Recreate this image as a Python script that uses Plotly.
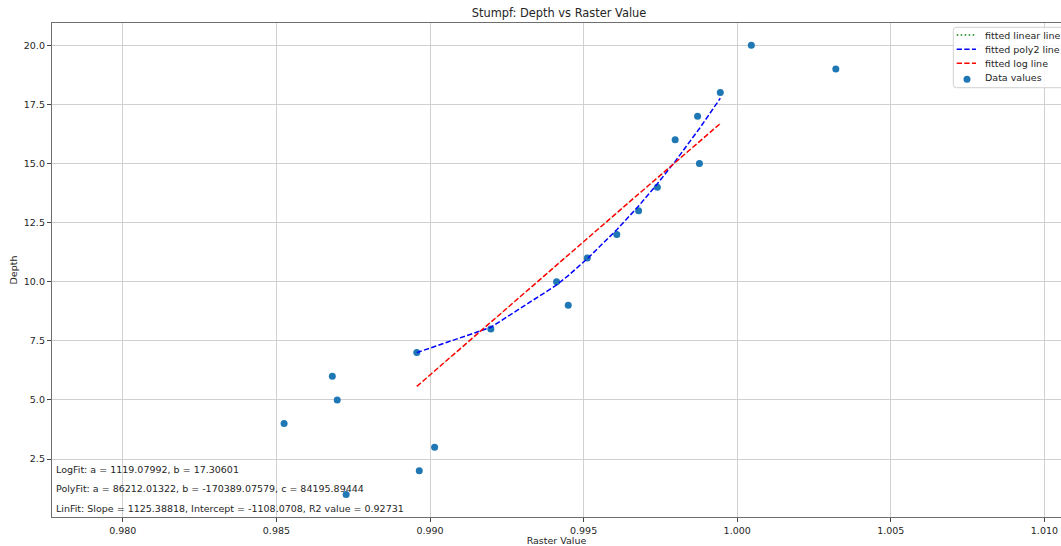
import plotly.graph_objects as go

# ---------------- data ----------------
depth_values = [1, 2, 3, 4, 5, 6, 7, 8, 9, 10, 11, 12, 13, 14, 15, 16, 17, 18, 19, 20]
raster_values = [0.98727, 0.98965, 0.99015, 0.98525, 0.98698, 0.98682, 0.98957, 0.99198,
                 0.99450, 0.99412, 0.99512, 0.99608, 0.99679, 0.99740, 0.99877, 0.99798,
                 0.99871, 0.99945, 1.00321, 1.00046]

fit_x = [0.98957, 0.99198, 0.99412, 0.99450, 0.99512, 0.99608, 0.99679, 0.99740,
         0.99798, 0.99871, 0.99877, 0.99945]
linear_fit = [5.58, 8.29, 10.70, 11.13, 11.83, 12.91, 13.71, 14.39, 15.04, 15.87, 15.93, 16.70]
poly2_fit = [7.00, 8.07, 9.86, 10.26, 10.97, 12.20, 13.20, 14.14, 15.09, 16.37, 16.48, 17.76]
log_fit = [5.57, 8.30, 10.71, 11.13, 11.83, 12.91, 13.71, 14.39, 15.04, 15.86, 15.93, 16.69]

x_tick_vals = [0.980, 0.985, 0.990, 0.995, 1.000, 1.005, 1.010]
x_tick_text = ["0.980", "0.985", "0.990", "0.995", "1.000", "1.005", "1.010"]
y_tick_vals = [2.5, 5.0, 7.5, 10.0, 12.5, 15.0, 17.5, 20.0]
y_tick_text = ["2.5", "5.0", "7.5", "10.0", "12.5", "15.0", "17.5", "20.0"]

legend_labels = ["fitted linear line", "fitted poly2 line", "fitted log line", "Data values"]
fit_texts = [
    "LogFit: a = 1119.07992, b = 17.30601",
    "PolyFit: a = 86212.01322, b = -170389.07579, c = 84195.89444",
    "LinFit: Slope = 1125.38818, Intercept = -1108.0708, R2 value = 0.92731",
]

# ---------------- layout geometry ----------------
W, H = 1061, 546
L, R, T, B = 52, 1061, 23, 517
FONT = "DejaVu Sans"
TXT = "#262626"


def px(xp):
    return (xp - L) / (R - L)


def py(yp):
    return (B - yp) / (B - T)


fig = go.Figure()

# scatter first (matplotlib draws lines above collections)
fig.add_trace(go.Scatter(x=raster_values, y=depth_values, mode="markers",
                         name=legend_labels[3],
                         marker=dict(color="#1f77b4", size=7, line=dict(width=0)),
                         showlegend=False))
# linear fit lies almost exactly under the log fit; in the reference it is hidden by it
fig.add_trace(go.Scatter(x=fit_x, y=linear_fit, mode="lines", name=legend_labels[0],
                         line=dict(color="#008000", width=1.5, dash="1.5px,2.5px"),
                         opacity=0.2, showlegend=False))
fig.add_trace(go.Scatter(x=fit_x, y=poly2_fit, mode="lines", name=legend_labels[1],
                         line=dict(color="#0000ff", width=1.5, dash="5.3px,2.3px"),
                         showlegend=False))
fig.add_trace(go.Scatter(x=fit_x, y=log_fit, mode="lines", name=legend_labels[2],
                         line=dict(color="#ff0000", width=1.5, dash="5.3px,2.3px"),
                         showlegend=False))

shapes = []
# legend box (rounded corners), extends past the right edge like the reference
x0, x1 = px(953.3), px(1068)
y0, y1 = py(87.7), py(27.3)
rx, ry = 3 / (R - L), 3 / (B - T)
path = (f"M {x0+rx},{y1} L {x1-rx},{y1} Q {x1},{y1} {x1},{y1-ry} L {x1},{y0+ry} "
        f"Q {x1},{y0} {x1-rx},{y0} L {x0+rx},{y0} Q {x0},{y0} {x0},{y0+ry} "
        f"L {x0},{y1-ry} Q {x0},{y1} {x0+rx},{y1} Z")
shapes.append(dict(type="path", path=path, xref="paper", yref="paper", layer="above",
                   fillcolor="rgba(255,255,255,0.85)", line=dict(color="#d0d0d0", width=1)))

legend_rows = [35, 49.3, 63.3, 77.7]
legend_styles = [("#008000", "1.5px,2.5px"), ("#0000ff", "5.3px,2.3px"), ("#ff0000", "5.3px,2.3px")]
for i, (col, dash) in enumerate(legend_styles):
    shapes.append(dict(type="line", xref="paper", yref="paper", layer="above",
                       x0=px(956.7), x1=px(976), y0=py(legend_rows[i]), y1=py(legend_rows[i]),
                       line=dict(color=col, width=1.5, dash=dash)))
shapes.append(dict(type="circle", xref="paper", yref="paper", layer="above",
                   xsizemode="pixel", ysizemode="pixel",
                   xanchor=px(967), yanchor=py(79.3),
                   x0=-3.5, x1=3.5, y0=-3.5, y1=3.5,
                   fillcolor="#1f77b4", line=dict(width=0)))

annotations = []
for i, lab in enumerate(legend_labels):
    annotations.append(dict(text=lab, xref="paper", yref="paper", x=px(983), y=py(legend_rows[i]),
                            xanchor="left", yanchor="middle", showarrow=False,
                            font=dict(family=FONT, size=9.5, color=TXT)))
for txt, yy in zip(fit_texts, [469.3, 488.7, 508.3]):
    annotations.append(dict(text=txt, xref="paper", yref="paper", x=px(54), y=py(yy),
                            xanchor="left", yanchor="middle", showarrow=False,
                            font=dict(family=FONT, size=9.5, color=TXT)))

fig.update_layout(
    width=W, height=H,
    margin=dict(l=L, r=W - R, t=T, b=H - B, pad=0),
    paper_bgcolor="white", plot_bgcolor="white",
    font=dict(family=FONT, size=9.5, color=TXT),
    title=dict(text="Stumpf: Depth vs Raster Value", x=559 / W, xref="container", xanchor="center",
               y=1 - 13.3 / H, yref="container", yanchor="middle",
               font=dict(family=FONT, size=11.4, color=TXT)),
    showlegend=False,
    shapes=shapes,
    annotations=annotations,
    xaxis=dict(range=[0.977695, 1.01054], tickvals=x_tick_vals, ticktext=x_tick_text,
               showgrid=True, gridcolor="#d0d0d0", gridwidth=1, zeroline=False,
               showline=True, linecolor="#6e6e6e", linewidth=1.3, mirror=True,
               ticks="outside", ticklen=4, tickwidth=1, tickcolor="#444444",
               tickfont=dict(family=FONT, size=9.5, color=TXT),
               title=dict(text="Raster Value", standoff=3, font=dict(family=FONT, size=9.5, color=TXT)),
               automargin=False),
    yaxis=dict(range=[0.047, 20.943], tickvals=y_tick_vals, ticktext=y_tick_text,
               showgrid=True, gridcolor="#d0d0d0", gridwidth=1, zeroline=False,
               showline=True, linecolor="#6e6e6e", linewidth=1.3, mirror=False,
               ticks="outside", ticklen=4, tickwidth=1, tickcolor="#444444",
               tickfont=dict(family=FONT, size=9.5, color=TXT),
               title=dict(text="Depth", standoff=4, font=dict(family=FONT, size=9.5, color=TXT)),
               automargin=False),
)

fig.write_html("out.html", config={"displayModeBar": False},
               post_script="document.body.style.margin='0';document.body.style.overflow='hidden';")
